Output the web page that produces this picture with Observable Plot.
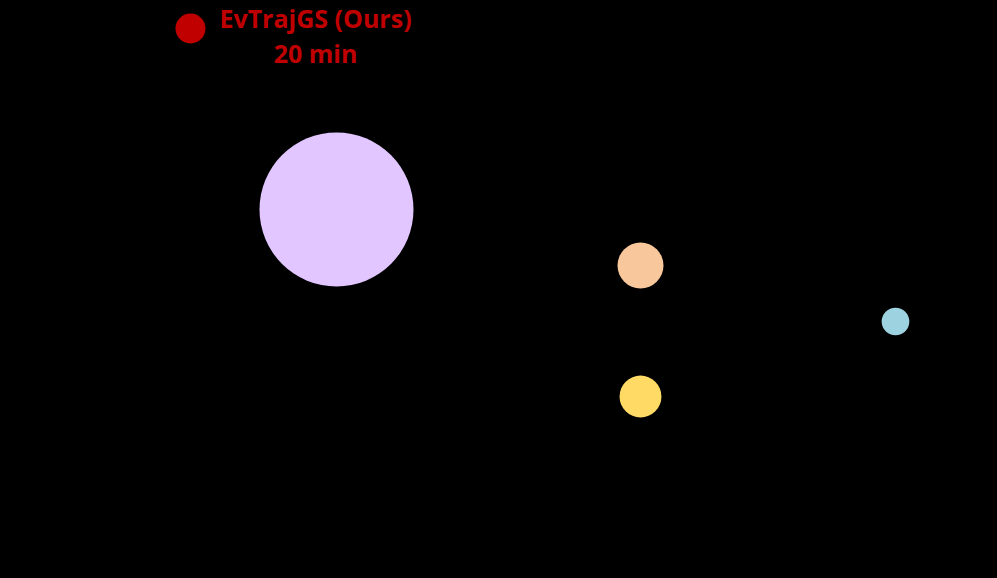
<!DOCTYPE html>
<html><head><meta charset="utf-8">
<script src="https://cdn.jsdelivr.net/npm/d3@7"></script>
<script src="https://cdn.jsdelivr.net/npm/@observablehq/plot@0.6"></script>
<style>html,body{margin:0;padding:0;background:#000;overflow:hidden}</style>
</head><body><div id="chart"></div>
<script>
const methods = ["EvTrajGS (Ours)", "Method A", "Method B", "Method C", "Method D"];
const xVals = [1.90, 3.36, 6.40, 6.40, 8.95];
const yVals = [5.50, 3.69, 3.13, 1.82, 2.57];
const minutes = [20, 527, 47, 39, 17];
const colors = ["#C00000", "#E2C6FF", "#F8C89C", "#FFDB66", "#9DD3E0"];
const legendLabel = "EvTrajGS (Ours)\n20 min";

const data = methods.map((m, i) => ({method: m, x: xVals[i], y: yVals[i], t: minutes[i], c: colors[i]}));

const plot = Plot.plot({
  width: 997, height: 578,
  margin: 0,
  style: {background: "#000"},
  x: {domain: [0, 9.97], axis: null},
  y: {domain: [0, 5.78], axis: null},
  r: {type: "sqrt", domain: [0, 527], range: [0, 77]},
  marks: [
    Plot.dot(data, {x: "x", y: "y", r: "t", fill: "c", stroke: null}),
    Plot.text([data[0]], {x: "x", y: "y", text: () => legendLabel, dx: 125, dy: 6,
      fill: "#C00000", fontSize: 25, fontWeight: "bold", fontFamily: "Open Sans", lineHeight: 1.4, textAnchor: "middle"})
  ]
});
document.getElementById("chart").append(plot);
</script></body></html>
